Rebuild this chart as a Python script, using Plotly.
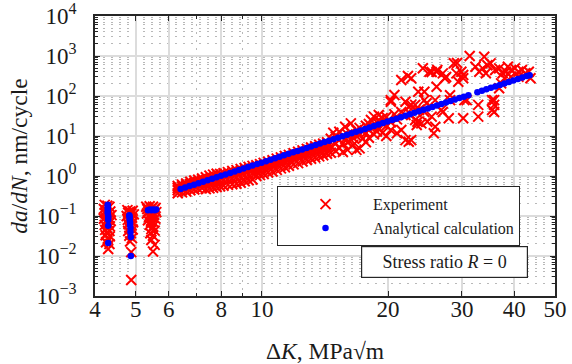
import plotly.graph_objects as go

# ---------------- data ----------------
# Experiment: low-ΔK clusters
exp_low_x = [4.22, 4.28, 4.33, 4.20, 4.26, 4.35, 4.22, 4.30, 4.38, 4.24, 4.32, 4.20, 4.28, 4.36,
             4.25, 4.31, 4.22, 4.34, 4.27, 4.23, 4.33, 4.28, 4.24, 4.34, 4.29, 4.25, 4.33, 4.30,
             4.78, 4.85, 4.92, 4.80, 4.88, 4.95, 4.76, 4.83, 4.90, 4.79, 4.86, 4.93, 4.81, 4.89,
             4.84, 4.92, 4.80, 4.87, 4.83, 4.90, 4.85, 4.88, 4.88,
             5.30, 5.40, 5.50, 5.58, 5.33, 5.45, 5.55, 5.36, 5.48, 5.60, 5.32, 5.42, 5.52, 5.38,
             5.47, 5.57, 5.35, 5.44, 5.53, 5.40, 5.50, 5.45, 5.55, 5.42, 5.50, 5.45, 5.55, 5.50]
exp_low_y = [0.19, 0.18, 0.17, 0.15, 0.14, 0.13, 0.12, 0.11, 0.105, 0.095, 0.09, 0.085, 0.08, 0.075,
             0.07, 0.065, 0.06, 0.055, 0.05, 0.045, 0.042, 0.038, 0.033, 0.031, 0.027, 0.022, 0.02, 0.015,
             0.14, 0.13, 0.135, 0.12, 0.115, 0.11, 0.10, 0.095, 0.09, 0.08, 0.075, 0.07, 0.062, 0.058,
             0.05, 0.046, 0.042, 0.037, 0.032, 0.028, 0.023, 0.0125, 0.0025,
             0.17, 0.175, 0.17, 0.16, 0.15, 0.155, 0.15, 0.13, 0.13, 0.125, 0.115, 0.11, 0.105, 0.095,
             0.09, 0.085, 0.078, 0.072, 0.068, 0.06, 0.055, 0.047, 0.043, 0.037, 0.032, 0.025, 0.019, 0.013]

# Experiment: dense band (rows per ΔK)
band_x = [6.3, 6.45, 6.6, 6.75, 6.9, 7.05, 7.2, 7.35, 7.5, 7.65, 7.8, 7.95, 8.1, 8.3, 8.5, 8.7,
          8.9, 9.1, 9.3, 9.5, 9.7, 9.9, 10.1, 10.35, 10.6, 10.85, 11.1, 11.35, 11.6, 11.9, 12.2,
          12.5, 12.8, 13.1, 13.4, 13.7, 14.0, 14.3]
band_hi = [0.56, 0.61, 0.65, 0.72, 0.77, 0.81, 0.87, 0.93, 1.02, 1.08, 1.14, 1.13, 1.17, 1.25, 1.33, 1.40,
           1.49, 1.59, 1.69, 1.79, 1.86, 1.98, 2.13, 2.28, 2.48, 2.72, 2.92, 3.17, 3.37, 3.72, 4.02,
           4.37, 4.76, 5.16, 5.56, 6.05, 6.45, 6.95]
band_mh = [0.50, 0.55, 0.59, 0.64, 0.68, 0.72, 0.77, 0.78, 0.84, 0.88, 0.92, 0.94, 0.98, 1.05, 1.10, 1.17,
           1.24, 1.32, 1.40, 1.48, 1.62, 1.72, 1.84, 1.98, 2.15, 2.35, 2.55, 2.75, 2.95, 3.25, 3.50,
           3.80, 4.15, 4.50, 4.85, 5.25, 5.65, 6.05]
band_mid = [0.44, 0.48, 0.51, 0.55, 0.58, 0.62, 0.66, 0.64, 0.68, 0.71, 0.74, 0.77, 0.80, 0.84, 0.88, 0.93,
            0.98, 1.05, 1.10, 1.17, 1.38, 1.48, 1.58, 1.72, 1.88, 2.02, 2.18, 2.38, 2.58, 2.80, 3.02,
            3.28, 3.58, 3.88, 4.18, 4.48, 4.86, 5.18]
band_lo = [0.37, 0.39, 0.41, 0.44, 0.46, 0.48, 0.50, 0.47, 0.49, 0.51, 0.53, 0.55, 0.57, 0.60, 0.62, 0.64,
           0.68, 0.74, 0.78, 0.82, 1.00, 1.05, 1.12, 1.22, 1.30, 1.42, 1.55, 1.65, 1.80, 1.95, 2.10,
           2.30, 2.50, 2.70, 2.90, 3.10, 3.30, 3.60]

# Experiment: scattered high-ΔK points
scat_x = [14.6, 14.6, 14.6, 14.8, 15.0, 15.0, 15.0, 15.3, 15.3, 15.3, 15.6, 15.6, 15.6, 15.8, 15.8,
          16.0, 16.0, 16.0, 16.3, 16.3, 16.3, 16.5, 16.5, 16.8, 16.8, 16.8, 17.1, 17.1, 17.1,
          17.4, 17.4, 17.7, 17.7, 17.7, 18.0, 18.0, 18.0, 18.2, 18.2, 18.5, 18.5, 18.5, 18.8, 18.8,
          19.0, 19.0, 19.0, 19.4, 19.4, 19.4, 19.8, 19.8, 19.8, 20.3, 20.3, 20.3, 20.3,
          20.7, 20.7, 21.0, 21.0, 21.5, 21.5, 21.5, 22.0, 22.0, 22.0, 22.3, 22.4, 22.4,
          22.7, 22.7, 22.7, 22.7, 23.2, 23.2, 23.2, 23.4, 23.5, 23.6, 23.7,
          24.0, 24.2, 24.4, 24.4, 24.4, 24.7, 24.8, 25.1, 25.4, 25.4, 25.7, 25.9, 25.9,
          26.1, 26.1, 26.2, 26.8, 27.0, 27.0, 27.3, 27.5, 27.9, 28.1, 28.1,
          28.7, 29.1, 29.2, 29.4, 29.9, 30.2, 30.2, 30.2, 30.4, 30.8,
          31.3, 32.3, 32.8, 32.8, 33.0, 33.6, 33.9, 34.2, 34.5, 35.1,
          35.4, 35.4, 35.8, 35.8, 35.8, 36.0, 36.8, 36.8, 37.2, 37.5, 37.9, 38.2, 38.6,
          39.3, 39.3, 40.1, 40.9, 40.9, 41.7, 42.5, 43.3, 43.7]
scat_y = [8.5, 5.5, 3.8, 12, 9.5, 6.5, 4.2, 12.8, 8.0, 5.0, 10, 6.5, 4.0, 17.1, 8.5,
          11, 7.0, 4.5, 20.7, 12, 8.0, 9.0, 6.0, 4.5, 14, 10, 4.9, 16, 11,
          13, 8.5, 18, 12, 7.0, 20, 14, 9.0, 25, 16, 30.5, 17, 11, 22, 13,
          33.5, 25, 15, 20, 12, 28, 30, 18, 10, 14.1, 72, 22, 79,
          106, 35, 11.7, 26, 14.1, 251, 40, 72, 7.9, 33.5, 316, 54, 7.2,
          277, 33.5, 7.9, 60, 44.7, 60, 25, 18.8, 22.8, 128, 44.7,
          20.7, 492, 128, 79, 40, 66, 22.8, 405, 30.5, 400, 11.7, 17.1, 79,
          405, 170, 447, 45, 368, 40, 277, 300, 27.7, 79, 104,
          661, 368, 670, 228, 405, 277, 27.7, 335, 79, 79,
          1000, 540, 30.5, 60, 405, 490, 960, 370, 590, 655,
          79, 44.7, 60, 40, 79, 447, 490, 156, 207, 370, 277, 405, 540,
          447, 303, 490, 405, 303, 447, 370, 405, 277]

# Analytical calculation
ana_low_x = [4.29, 4.29, 4.29, 4.29, 4.29, 4.30, 4.30, 4.30, 4.30, 4.30,
             4.83, 4.83, 4.84, 4.84, 4.85, 4.85, 4.86, 4.86, 4.87, 4.87,
             5.35, 5.40, 5.45, 5.50, 5.55, 5.60]
ana_low_y = [0.19, 0.17, 0.15, 0.13, 0.115, 0.10, 0.09, 0.08, 0.057, 0.021,
             0.105, 0.10, 0.09, 0.08, 0.07, 0.06, 0.05, 0.04, 0.03, 0.01,
             0.14, 0.145, 0.14, 0.145, 0.14, 0.145]
ana_x = [6.4, 6.56, 6.72, 6.89, 7.06, 7.24, 7.42, 7.61, 7.8, 7.99, 8.19, 8.4, 8.61, 8.82, 9.04,
         9.27, 9.5, 9.74, 9.98, 10.23, 10.49, 10.75, 11.02, 11.29, 11.58, 11.87, 12.16, 12.47,
         12.78, 13.1, 13.43, 13.76, 14.1, 14.46, 14.82, 15.19, 15.57, 15.96, 16.36, 16.77, 17.19,
         17.62, 18.06, 18.51, 18.97, 19.44, 19.93, 20.43, 20.94, 21.46, 22.0, 22.55, 23.11, 23.69,
         24.28, 24.89, 25.51, 26.15, 26.8, 27.47, 28.16, 28.86, 29.58, 30.32, 31.08, 32.65,
         33.47, 34.3, 35.16, 36.04, 36.94, 37.87, 38.81, 39.78, 40.78, 41.8, 42.84, 43.5]
ana_y = [0.472, 0.514, 0.559, 0.608, 0.662, 0.720, 0.783, 0.853, 0.927, 1.009, 1.098, 1.195, 1.300,
         1.415, 1.539, 1.675, 1.823, 1.983, 2.158, 2.348, 2.555, 2.780, 3.025, 3.291, 3.581, 3.897,
         4.240, 4.613, 5.020, 5.462, 5.943, 6.467, 7.036, 7.656, 8.330, 9.064, 9.862, 10.73, 11.68,
         12.70, 13.82, 15.04, 16.37, 17.81, 19.38, 21.08, 22.94, 24.96, 27.16, 29.55, 32.16, 34.99,
         38.07, 41.42, 45.07, 49.04, 53.36, 58.06, 63.18, 68.74, 74.80, 81.39, 88.56, 96.36, 104.8,
         124.1, 135.1, 147.0, 159.9, 174.0, 189.3, 206.0, 224.2, 243.9, 265.4, 288.8, 314.2, 331.0]

x_tick_vals = [4, 5, 6, 8, 10, 20, 30, 40, 50]
x_tick_text = ["4", "5", "6", "8", "10", "20", "30", "40", "50"]
x_minor_vals = [7, 9]
y_tick_vals = [1e-3, 1e-2, 1e-1, 1e0, 1e1, 1e2, 1e3, 1e4]
y_tick_text = ["10<sup>−3</sup>", "10<sup>−2</sup>", "10<sup>−1</sup>", "10<sup>0</sup>",
               "10<sup>1</sup>", "10<sup>2</sup>", "10<sup>3</sup>", "10<sup>4</sup>"]
y_minor_vals = [m * 10.0 ** e for e in range(-3, 4) for m in range(2, 10)]

# ---------------- figure ----------------
exp_x = exp_low_x + band_x * 4 + scat_x
exp_y = exp_low_y + band_hi + band_mh + band_mid + band_lo + scat_y

FONT = "'Liberation Serif', 'Times New Roman', serif"
TXT = "#1a1a1a"
fig = go.Figure()
fig.add_trace(go.Scatter(
    x=exp_x, y=exp_y, mode="markers", name="Experiment",
    marker=dict(symbol="x-thin", size=10, line=dict(color="#ff0000", width=2), color="#ff0000"),
))
fig.add_trace(go.Scatter(
    x=ana_low_x + ana_x, y=ana_low_y + ana_y, mode="markers", name="Analytical calculation",
    marker=dict(symbol="circle", size=6.5, color="#0000ff", line=dict(width=0)),
))

grid_major = "#dcdcdc"
grid_minor = "#b8b8b8"
axis_common = dict(
    type="log", showline=True, linecolor="#262626", linewidth=1.5, mirror="allticks",
    ticks="inside", ticklen=5, tickcolor="#262626", tickwidth=1,
    showgrid=True, gridcolor=grid_major, gridwidth=1.5,
    tickfont=dict(family=FONT, size=23, color=TXT),
    zeroline=False, automargin=False,
)
fig.update_xaxes(
    **axis_common,
    range=[0.60206, 1.69897],
    tickmode="array", tickvals=x_tick_vals, ticktext=x_tick_text,
    ticklabelstandoff=-8,
    minor=dict(tickvals=x_minor_vals, ticks="inside", ticklen=3, tickcolor="#262626",
               showgrid=True, gridcolor=grid_minor, griddash="2px,6px", gridwidth=1),
    title=dict(text="Δ<i>K</i>, MPa√m", font=dict(family=FONT, size=23.5, color=TXT), standoff=22),
)
fig.update_yaxes(
    **axis_common,
    range=[-3, 4],
    tickmode="array", tickvals=y_tick_vals, ticktext=y_tick_text,
    ticklabelstandoff=12,
    minor=dict(tickvals=y_minor_vals, ticks="inside", ticklen=3, tickcolor="#262626",
               showgrid=True, gridcolor=grid_minor, griddash="2px,6px", gridwidth=1),
    title=dict(text="<i>da</i>/<i>dN</i>, nm/cycle", font=dict(family=FONT, size=23.5, color=TXT), standoff=2),
)

fig.update_layout(
    width=572, height=364,
    margin=dict(l=95, r=17, t=16, b=68, autoexpand=False),
    plot_bgcolor="white", paper_bgcolor="white",
    font=dict(family=FONT, color=TXT),
    showlegend=True,
    legend=dict(
        x=0.3957, y=0.392, xanchor="left", yanchor="top",
        bgcolor="white", bordercolor="#262626", borderwidth=1,
        font=dict(family=FONT, size=16, color=TXT),
        itemwidth=85,
    ),
    annotations=[dict(
        x=0.76, y=0.1214, xref="paper", yref="paper", xanchor="center", yanchor="middle",
        text="Stress ratio <i>R</i> = 0", showarrow=False,
        font=dict(family=FONT, size=18, color=TXT),
        bgcolor="white", bordercolor="#262626", borderwidth=1.2,
        width=163, height=28, borderpad=1,
    )],
)

fig.write_html("out.html")
